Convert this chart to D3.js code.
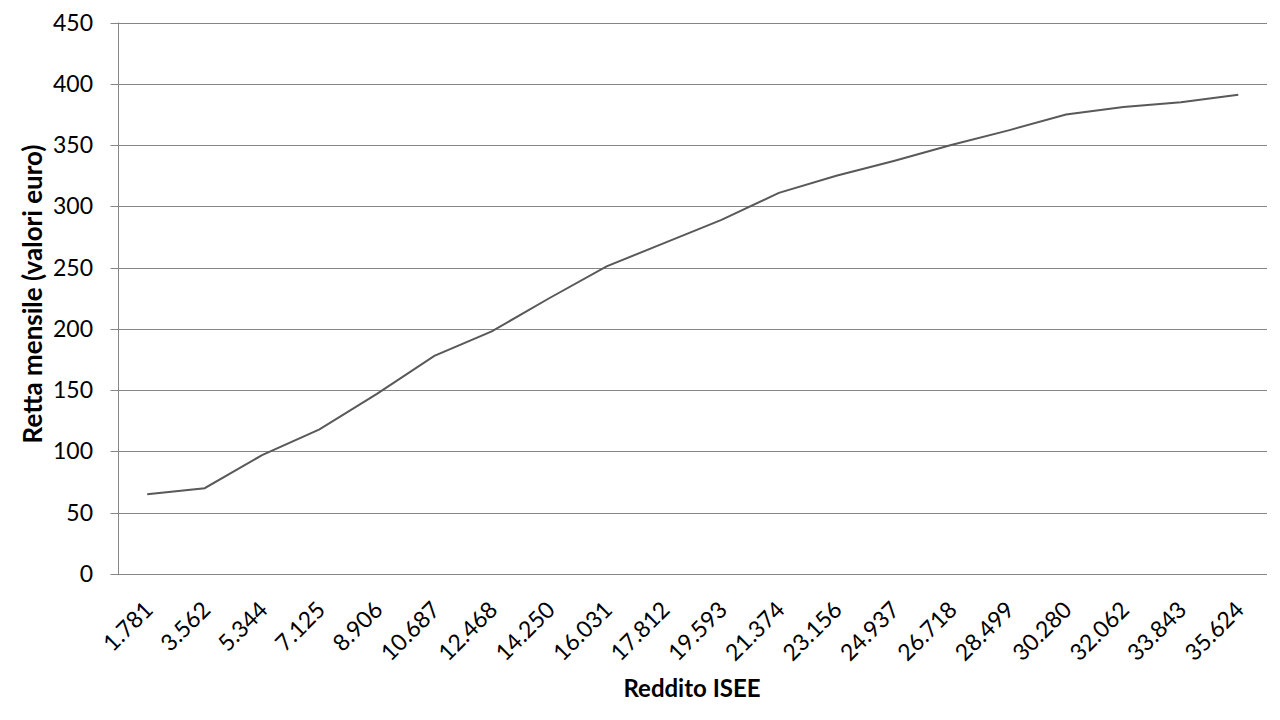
<!DOCTYPE html>
<html>
<head>
<meta charset="utf-8">
<script src="https://cdn.jsdelivr.net/npm/d3@7"></script>
<style>
  body { margin: 0; background: #fff; }
  text { font-family: Lato, "Open Sans", sans-serif; fill: #000; }
</style>
</head>
<body>
<svg id="chart" width="1280" height="720"></svg>
<script>
// categorie (Reddito ISEE) e valori (retta mensile)
var categories = ["1.781", "3.562", "5.344", "7.125", "8.906", "10.687", "12.468", "14.250", "16.031", "17.812",
  "19.593", "21.374", "23.156", "24.937", "26.718", "28.499", "30.280", "32.062", "33.843", "35.624"];
var retta = [65, 70, 97, 118, 147, 178, 198, 225, 251, 270, 289, 311, 325, 337, 350, 362, 375, 381, 385, 391];
var yTicks = [0, 50, 100, 150, 200, 250, 300, 350, 400, 450];

var svg = d3.select("#chart");
var plotL = 118.5, plotR = 1267, plotT = 22.5, plotB = 574;

var x = d3.scaleBand().domain(categories).range([plotL, plotR]);
var y = d3.scaleLinear().domain([0, 450]).range([plotB, plotT]);

// griglia orizzontale
svg.append("g").selectAll("line").data(yTicks).enter().append("line")
  .attr("x1", plotL - 8).attr("x2", plotR)
  .attr("y1", function(d) { return Math.round(y(d)) + 0.5; })
  .attr("y2", function(d) { return Math.round(y(d)) + 0.5; })
  .attr("stroke", "#868686").attr("stroke-width", 1);

// asse verticale
svg.append("line").attr("x1", plotL).attr("x2", plotL).attr("y1", plotT).attr("y2", plotB)
  .attr("stroke", "#868686");

// etichette asse y
svg.append("g").selectAll("text").data(yTicks).enter().append("text")
  .attr("x", 93).attr("y", function(d) { return y(d); })
  .attr("dy", "0.35em").attr("text-anchor", "end")
  .style("font-size", "23px")
  .text(function(d) { return d; });

// etichette asse x ruotate
svg.append("g").selectAll("text").data(categories).enter().append("text")
  .attr("transform", function(d) {
    var cx = x(d) + x.bandwidth() / 2;
    return "translate(" + (cx - 5) + "," + 599 + ") rotate(-45)";
  })
  .attr("text-anchor", "end").attr("dy", "0.75em")
  .style("font-size", "23px")
  .text(function(d) { return d; });

// linea
var line = d3.line()
  .x(function(d, i) { return x(categories[i]) + x.bandwidth() / 2; })
  .y(function(d) { return y(d); });

svg.append("path").datum(retta)
  .attr("d", line)
  .attr("fill", "none").attr("stroke", "#595959").attr("stroke-width", 2);

// titoli assi
svg.append("text").attr("x", 692).attr("y", 697).attr("text-anchor", "middle")
  .style("font-size", "24px").style("font-weight", "bold").text("Reddito ISEE");

svg.append("text").attr("transform", "translate(42,294) rotate(-90)")
  .attr("text-anchor", "middle")
  .style("font-size", "26px").style("font-weight", "bold").text("Retta mensile (valori euro)");
</script>
</body>
</html>
